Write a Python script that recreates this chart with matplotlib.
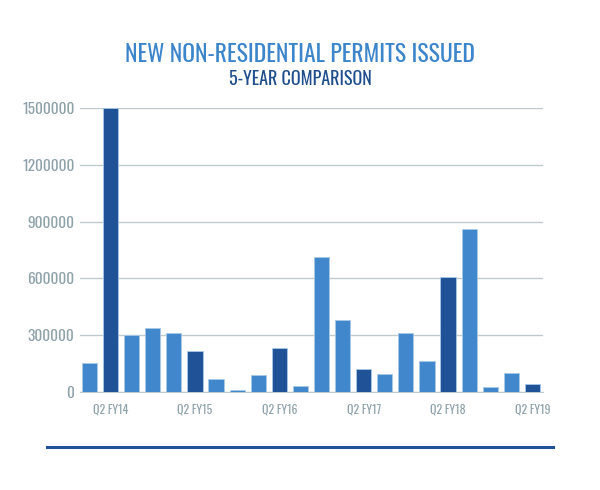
import matplotlib
matplotlib.use('Agg')
import matplotlib.pyplot as plt
from matplotlib.lines import Line2D

# Quarterly values, oldest first (Q1 FY14 .. Q2 FY19)
permits = [155000, 1500000, 300000, 339000, 312000, 219000, 71000, 12000,
           90000, 233000, 32000, 715000, 379000, 122000, 97000, 311000,
           162000, 607000, 860000, 28000, 102000, 41000]
is_q2 = [False, True, False, False, False, True, False, False,
         False, True, False, False, False, True, False, False,
         False, True, False, False, False, True]
tick_labels = ['Q2 FY14', 'Q2 FY15', 'Q2 FY16', 'Q2 FY17', 'Q2 FY18', 'Q2 FY19']
y_ticks = [0, 300000, 600000, 900000, 1200000, 1500000]

LIGHT = '#4087CB'
DARK = '#1F5296'
GRID = '#BFCACE'
LABEL = '#8FA2AA'
FONT = ['Oswald', 'Roboto Condensed', 'Liberation Sans Narrow', 'DejaVu Sans']

plt.rcParams['font.family'] = FONT


def main():
    fig = plt.figure(figsize=(6, 4.9), dpi=100)
    ax = fig.add_axes([0.1333, 0.2, 0.7717, 0.5796])

    x = list(range(len(permits)))
    colors = [DARK if q else LIGHT for q in is_q2]
    ax.bar(x, permits, width=0.72, color=colors, edgecolor='#A9C8E8',
           linewidth=0.6, zorder=3)

    ax.set_xlim(-0.45, len(permits) - 0.5)
    ax.set_ylim(0, 1500000)
    ax.set_yticks(y_ticks)
    ax.set_yticklabels([str(v) for v in y_ticks])
    ax.yaxis.grid(True, color=GRID, linewidth=1, zorder=0)
    ax.set_axisbelow(True)

    tick_pos = [i for i, q in enumerate(is_q2) if q]
    ax.set_xticks(tick_pos)
    ax.set_xticklabels(tick_labels)

    for s in ['top', 'right', 'left']:
        ax.spines[s].set_visible(False)
    ax.spines['bottom'].set_color(GRID)
    ax.tick_params(axis='both', length=0, colors=LABEL)
    ax.tick_params(axis='y', labelsize=11, pad=4)
    ax.tick_params(axis='x', labelsize=8.5, pad=8)
    for lbl in ax.get_yticklabels() + ax.get_xticklabels():
        lbl.set_fontweight('light')

    fig.text(0.5, 0.888, 'NEW NON-RESIDENTIAL PERMITS ISSUED', ha='center',
             va='center', fontsize=17, color='#3C85CB')
    fig.text(0.5, 0.838, '5-YEAR COMPARISON', ha='center', va='center',
             fontsize=13, color='#1F4E8C', weight='light')

    fig.add_artist(Line2D([47 / 600, 553 / 600], [1 - 447 / 490] * 2,
                          color=DARK, linewidth=2.2))

    fig.savefig('out.png', dpi=100, facecolor='white')


if __name__ == '__main__':
    main()
